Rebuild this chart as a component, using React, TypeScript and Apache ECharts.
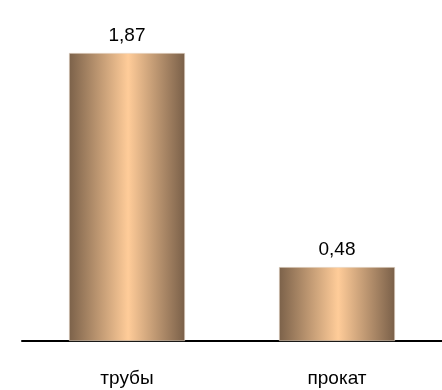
import React, { useEffect, useRef } from "react";
import * as echarts from "echarts";

const categories = ["трубы", "прокат"];
const values = [1.87, 0.48];
const valueLabels = ["1,87", "0,48"];

export default function App() {
  const ref = useRef<HTMLDivElement>(null);
  useEffect(() => {
    if (!ref.current) return;
    const chart = echarts.init(ref.current, undefined, { renderer: "svg" });
    const grad = new echarts.graphic.LinearGradient(0, 0, 1, 0, [
      { offset: 0, color: "#7c624a" },
      { offset: 0.51, color: "#ffcc99" },
      { offset: 1, color: "#7a6049" },
    ]);
    chart.setOption({
      animation: false,
      grid: { left: 22, right: 0, top: 53, bottom: 49 },
      xAxis: {
        type: "category",
        data: categories,
        axisLine: { lineStyle: { color: "#000", width: 2 } },
        axisTick: { show: false },
        axisLabel: {
          color: "#000",
          fontSize: 19,
          fontFamily: "Liberation Sans, Arial, sans-serif",
          margin: 27,
        },
      },
      yAxis: {
        type: "value",
        min: 0,
        max: 1.87,
        show: false,
        splitLine: { show: false },
      },
      series: [
        {
          type: "bar",
          data: values,
          barWidth: 116,
          itemStyle: { color: grad, borderColor: "#e8dccf", borderWidth: 0.6 },
          label: {
            show: true,
            position: "top",
            distance: 9,
            color: "#000",
            fontSize: 19,
            fontFamily: "Liberation Sans, Arial, sans-serif",
            formatter: (p: any) => valueLabels[p.dataIndex],
          },
        },
      ],
    });
    return () => chart.dispose();
  }, []);
  return (
    <div
      ref={ref}
      style={{ position: "fixed", left: 0, top: 0, width: 442, height: 390 }}
    />
  );
}
